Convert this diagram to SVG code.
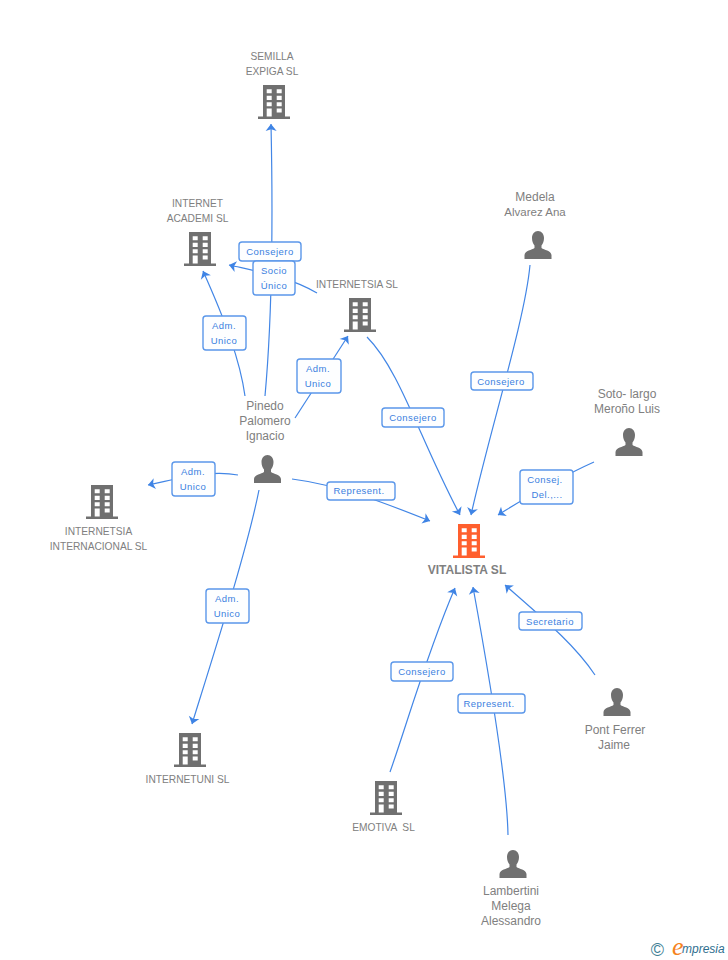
<svg xmlns="http://www.w3.org/2000/svg" width="728" height="960" viewBox="0 0 728 960">
<style>
text{font-family:"Liberation Sans",Arial,sans-serif}
.n{font-size:10.2px;fill:#808080;text-anchor:middle}
.m{font-size:12px;fill:#808080;text-anchor:middle}
.l{font-size:9.5px;fill:#3b7fe0;text-anchor:middle;letter-spacing:.45px}
.e{fill:none;stroke:#4286e6;stroke-width:1.200;marker-end:url(#a)}
.b{fill:#fdfeff;stroke:#5b97ea;stroke-width:1.400}
.g{fill:#707070}
.o{fill:#ff5f2e}
</style>
<defs>
<marker id="a" markerUnits="userSpaceOnUse" markerWidth="10" markerHeight="12" refX="7" refY="5.500" orient="auto" overflow="visible"><path d="M0 0L7 5.500L0 11L1.800 5.500Z" fill="#3f84e5"/></marker>
<symbol id="bld" viewBox="0 0 32 34" overflow="visible"><path fill-rule="evenodd" d="M5 0H27V31.500H32V34H0V31.500H5ZM8.700 4.300V8.300H13.700V4.300ZM18.700 4.300V8.300H23.700V4.300ZM8.700 10.800V15H13.700V10.800ZM18.700 10.800V15H23.700V10.800ZM8.700 17.300V21.300H13.700V17.300ZM18.700 17.300V21.300H23.700V17.300ZM8.700 23.500V31.500H13.700V23.500ZM18.700 23.500V27.500H23.700V23.500Z"/></symbol>
<symbol id="psn" viewBox="0 0 28 28" overflow="visible"><path d="M14 0C17.500 0 20 3 20 7C20 10 19 12.500 17.500 14.500V17C20 19 27 19.500 27.500 24V28H0.500V24C1 19.500 8 19 10.500 17V14.500C9 12.500 8 10 8 7C8 3 10.500 0 14 0Z"/></symbol>
</defs>
<g id="connectors">
<path class="e" d="M265 396C271 330 273.500 240 271 124"/>
<path class="e" d="M317 293C290 277 260 272 229 265"/>
<path class="e" d="M245 396C240 360 225 320 203 271"/>
<path class="e" d="M295 418L348 336"/>
<path class="e" d="M238 475C210 470 180 478 148 485"/>
<path class="e" d="M259 490C247 550 215 650 192 724"/>
<path class="e" d="M292 479C340 485 390 505 430 521"/>
<path class="e" d="M367 337C400 370 420 440 460 515"/>
<path class="e" d="M530 265C525 320 490 430 471 515"/>
<path class="e" d="M594 462C565 475 530 495 498 515"/>
<path class="e" d="M595 675C575 645 545 620 505 585"/>
<path class="e" d="M508 835C507 780 490 680 473 587"/>
<path class="e" d="M390 772C405 730 428 650 455 588"/>
</g>
<g id="edge-labels">
<rect class="b" x="239" y="242" width="62" height="19" rx="3"/><text class="l" x="270" y="255">Consejero</text>
<rect class="b" x="253" y="261" width="42" height="34" rx="3"/><text class="l" x="274" y="274">Socio</text><text class="l" x="274" y="289">Único</text>
<rect class="b" x="203" y="316" width="43" height="34" rx="3"/><text class="l" x="224" y="329">Adm.</text><text class="l" x="224" y="344">Unico</text>
<rect class="b" x="297" y="359" width="44" height="34" rx="3"/><text class="l" x="318" y="372">Adm.</text><text class="l" x="318" y="387">Unico</text>
<rect class="b" x="382" y="408" width="62" height="19" rx="3"/><text class="l" x="413" y="421">Consejero</text>
<rect class="b" x="471" y="372" width="62" height="18" rx="3"/><text class="l" x="501" y="385">Consejero</text>
<rect class="b" x="520" y="470" width="53" height="34" rx="3"/><text class="l" x="545" y="483">Consej.</text><text class="l" x="547" y="498">Del.,...</text>
<rect class="b" x="172" y="462" width="43" height="34" rx="3"/><text class="l" x="193" y="475">Adm.</text><text class="l" x="193" y="490">Unico</text>
<rect class="b" x="327" y="482" width="68" height="18" rx="3"/><text class="l" x="359" y="494">Represent.</text>
<rect class="b" x="519" y="612" width="63" height="18" rx="3"/><text class="l" x="550" y="625">Secretario</text>
<rect class="b" x="206" y="589" width="43" height="34" rx="3"/><text class="l" x="227" y="602">Adm.</text><text class="l" x="227" y="617">Unico</text>
<rect class="b" x="391" y="662" width="62" height="19" rx="3"/><text class="l" x="422" y="675">Consejero</text>
<rect class="b" x="458" y="694" width="67" height="19" rx="3"/><text class="l" x="489" y="707">Represent.</text>
</g>
<g id="node-semilla"><use href="#bld" class="g" x="258" y="85" width="32" height="34"/><text class="n" x="272" y="60">SEMILLA</text><text class="n" x="272" y="75">EXPIGA SL</text></g>
<g id="node-academi"><use href="#bld" class="g" x="184" y="232" width="32" height="34"/><text class="n" x="197.500" y="207">INTERNET</text><text class="n" x="197.500" y="222">ACADEMI SL</text></g>
<g id="node-internetsia"><use href="#bld" class="g" x="344" y="298" width="32" height="34"/><text class="n" x="357" y="288">INTERNETSIA SL</text></g>
<g id="node-internacional"><use href="#bld" class="g" x="86" y="485" width="32" height="34"/><text class="n" x="98.500" y="535">INTERNETSIA</text><text class="n" x="98.500" y="550">INTERNACIONAL SL</text></g>
<g id="node-internetuni"><use href="#bld" class="g" x="174" y="733" width="32" height="34"/><text class="n" x="187.500" y="783">INTERNETUNI SL</text></g>
<g id="node-emotiva"><use href="#bld" class="g" x="370" y="781" width="32" height="34"/><text class="n" x="383.500" y="831" xml:space="preserve">EMOTIVA  SL</text></g>
<g id="node-vitalista"><use href="#bld" class="o" x="453" y="524" width="32" height="34"/><text class="n" x="467" y="574" style="font-weight:bold;font-size:12px">VITALISTA SL</text></g>
<g id="node-medela"><use href="#psn" class="g" x="524" y="231" width="28" height="28"/><text class="m" x="535" y="201">Medela</text><text class="m" x="535" y="216" style="font-size:11.500px">Alvarez Ana</text></g>
<g id="node-soto"><use href="#psn" class="g" x="615" y="428" width="28" height="28"/><text class="m" x="627" y="398">Soto- largo</text><text class="m" x="627" y="413">Meroño Luis</text></g>
<g id="node-pinedo"><use href="#psn" class="g" x="253.500" y="455" width="28" height="28"/><text class="m" x="265" y="410">Pinedo</text><text class="m" x="265" y="425">Palomero</text><text class="m" x="265" y="440">Ignacio</text></g>
<g id="node-pont"><use href="#psn" class="g" x="603" y="688" width="28" height="28"/><text class="m" x="615" y="734">Pont Ferrer</text><text class="m" x="614" y="749">Jaime</text></g>
<g id="node-lambertini"><use href="#psn" class="g" x="499" y="850" width="28" height="28"/><text class="m" x="511" y="895">Lambertini</text><text class="m" x="511" y="910">Melega</text><text class="m" x="511" y="925">Alessandro</text></g>
<g id="logo"><text x="657.500" y="955.500" font-size="18" fill="#3f7f96" text-anchor="middle">©</text><text x="672" y="955" font-size="26" fill="#f58220" style="font-family:'Liberation Serif',serif;font-style:italic">e</text><text x="682" y="953" font-size="12" fill="#2f6f8f" style="font-style:italic">mpresia</text></g>
</svg>
